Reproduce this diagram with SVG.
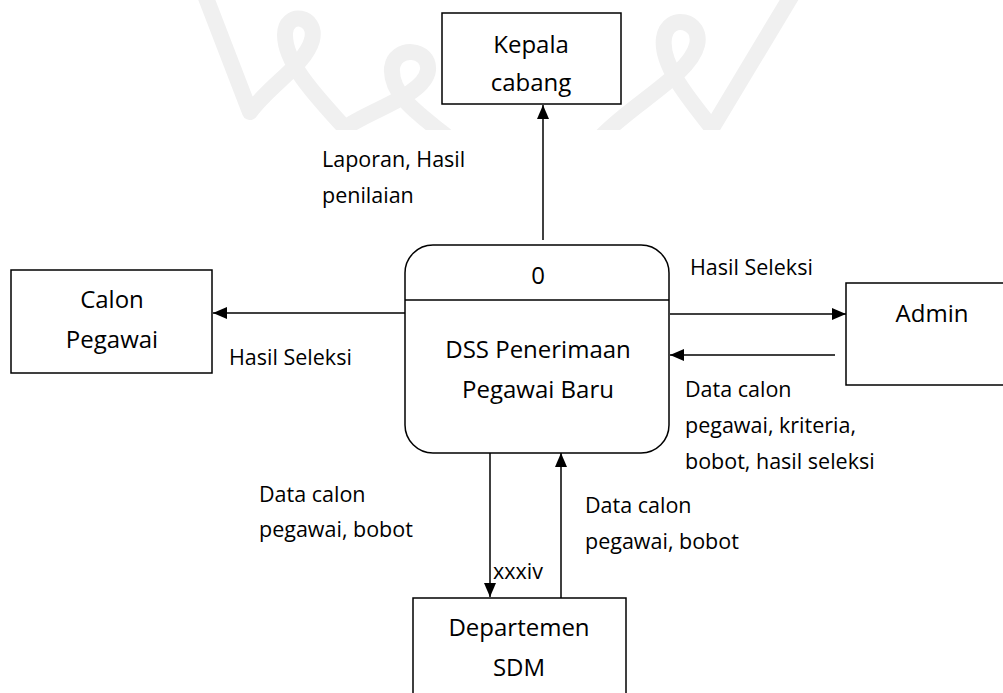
<svg xmlns="http://www.w3.org/2000/svg" width="1003" height="693" viewBox="0 0 1003 693">
  <style>
    .box { fill: #ffffff; stroke: #000000; stroke-width: 1.5; }
    .flow { fill: none; stroke: #000000; stroke-width: 1.5; marker-end: url(#arrow); }
    .node-text { font-family: "Open Sans", "Liberation Sans", sans-serif; font-size: 24px; fill: #000000; text-anchor: middle; }
    .label { font-family: "Open Sans", "Liberation Sans", sans-serif; font-size: 21.5px; fill: #000000; }
    .mark { fill: none; stroke: #f0f0f0; stroke-width: 16; stroke-linecap: round; stroke-linejoin: round; }
  </style>
  <defs>
    <marker id="arrow" viewBox="0 0 14 12" refX="14" refY="6" markerWidth="14" markerHeight="12" markerUnits="userSpaceOnUse" orient="auto">
      <path d="M0,0 L14,6 L0,12 Z" fill="#000000"/>
    </marker>
    <clipPath id="mark-clip">
      <rect x="0" y="0" width="1003" height="130"/>
    </clipPath>
  </defs>

  <rect x="0" y="0" width="1003" height="693" fill="#ffffff"/>

  <!-- faint background emblem -->
  <g id="emblem" clip-path="url(#mark-clip)">
    <path class="mark" d="M203,-10 L250,112 C270,85 305,65 312,40 C318,15 285,10 285,35 C285,65 320,100 345,128"/>
    <path class="mark" d="M345,128 C370,110 425,95 428,70 C430,48 395,45 392,68 C390,95 420,115 445,135"/>
    <path class="mark" d="M600,138 C630,105 690,75 697,45 C703,20 668,12 664,38 C660,65 690,100 712,128 L795,-10"/>
  </g>

  <!-- data flows -->
  <g id="connectors">
    <line class="flow" x1="543" y1="240" x2="543" y2="105"/>
    <line class="flow" x1="405" y1="313" x2="213" y2="313"/>
    <line class="flow" x1="670" y1="314" x2="846" y2="314"/>
    <line class="flow" x1="835" y1="355" x2="670" y2="355"/>
    <line class="flow" x1="490" y1="453" x2="490" y2="597"/>
    <line class="flow" x1="561" y1="598" x2="561" y2="453"/>
  </g>

  <!-- flow labels -->
  <g id="labels">
    <text class="label" x="322" y="167">Laporan, Hasil</text>
    <text class="label" x="322" y="203">penilaian</text>
    <text class="label" x="229" y="365">Hasil Seleksi</text>
    <text class="label" x="690" y="275">Hasil Seleksi</text>
    <text class="label" x="685" y="397">Data calon</text>
    <text class="label" x="685" y="433">pegawai, kriteria,</text>
    <text class="label" x="685" y="469">bobot, hasil seleksi</text>
    <text class="label" x="259" y="502">Data calon</text>
    <text class="label" x="259" y="537">pegawai, bobot</text>
    <text class="label" x="585" y="513">Data calon</text>
    <text class="label" x="585" y="549">pegawai, bobot</text>
    <text class="label" x="493" y="579">xxxiv</text>
  </g>

  <g id="kepala-cabang">
    <rect class="box" x="442" y="13" width="179" height="91"/>
    <text class="node-text" x="531" y="53">Kepala</text>
    <text class="node-text" x="531" y="91">cabang</text>
  </g>

  <g id="process-0">
    <rect class="box" x="405" y="245" width="264" height="208" rx="28" ry="28"/>
    <line x1="405" y1="300" x2="669" y2="300" stroke="#000000" stroke-width="1.5"/>
    <text class="node-text" x="538" y="284">0</text>
    <text class="node-text" x="538" y="358">DSS Penerimaan</text>
    <text class="node-text" x="538" y="398">Pegawai Baru</text>
  </g>

  <g id="calon-pegawai">
    <rect class="box" x="11" y="270" width="201" height="103"/>
    <text class="node-text" x="112" y="308">Calon</text>
    <text class="node-text" x="112" y="348">Pegawai</text>
  </g>

  <g id="admin">
    <rect class="box" x="846" y="283" width="170" height="102"/>
    <text class="node-text" x="932" y="322">Admin</text>
  </g>

  <g id="departemen-sdm">
    <rect class="box" x="413" y="598" width="213" height="110"/>
    <text class="node-text" x="519" y="636">Departemen</text>
    <text class="node-text" x="519" y="676">SDM</text>
  </g>
</svg>
